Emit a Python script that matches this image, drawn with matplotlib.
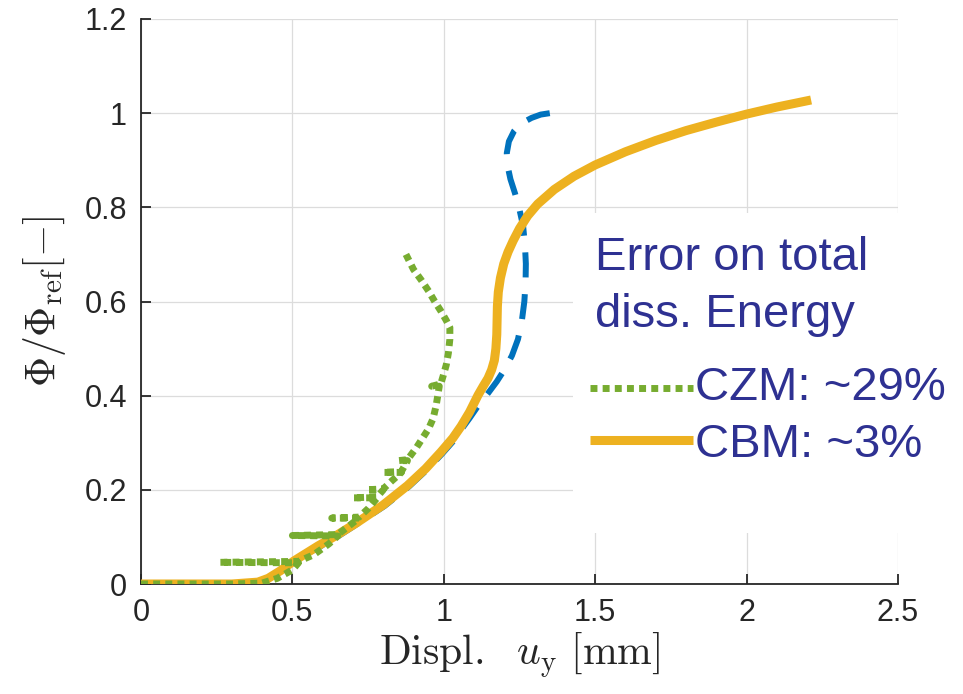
import matplotlib
matplotlib.use("Agg")
import matplotlib.pyplot as plt
from matplotlib.lines import Line2D
from matplotlib.patches import Rectangle

# reference curve (dashed blue, no legend entry)
ref_x = [0.0, 0.3, 0.386, 0.42, 0.46, 0.505, 0.545, 0.59, 0.655, 0.72, 0.805, 0.885, 0.945,
         0.995, 1.035, 1.06, 1.085, 1.115, 1.146, 1.175, 1.2, 1.225, 1.245, 1.258, 1.266, 1.27,
         1.271, 1.268, 1.262, 1.25, 1.235, 1.22, 1.21, 1.208, 1.215, 1.232, 1.255, 1.29, 1.32, 1.35]
ref_y = [0.0, 0.0, 0.004, 0.012, 0.027, 0.047, 0.063, 0.079, 0.103, 0.13, 0.166, 0.207, 0.243,
         0.277, 0.306, 0.33, 0.352, 0.38, 0.405, 0.43, 0.455, 0.485, 0.52, 0.56, 0.6, 0.64,
         0.68, 0.72, 0.76, 0.795, 0.83, 0.86, 0.89, 0.915, 0.94, 0.962, 0.978, 0.99, 0.997, 1.0]

# CBM
cbm_x = [0.0, 0.3, 0.386, 0.42, 0.46, 0.505, 0.545, 0.585, 0.65, 0.717, 0.8, 0.88, 0.94, 0.99,
         1.03, 1.057, 1.085, 1.113, 1.13, 1.146, 1.158, 1.167, 1.172, 1.175, 1.176, 1.177, 1.18,
         1.187, 1.198, 1.212, 1.229, 1.25, 1.277, 1.31, 1.365, 1.43, 1.5, 1.6, 1.7, 1.8, 1.9,
         2.0, 2.1, 2.213]
cbm_y = [0.0, 0.0, 0.004, 0.012, 0.028, 0.049, 0.065, 0.081, 0.105, 0.132, 0.168, 0.209, 0.245,
         0.28, 0.31, 0.335, 0.365, 0.401, 0.42, 0.437, 0.455, 0.475, 0.5, 0.53, 0.56, 0.59, 0.62,
         0.65, 0.68, 0.705, 0.729, 0.755, 0.782, 0.807, 0.838, 0.866, 0.89, 0.918, 0.942, 0.963,
         0.981, 0.998, 1.013, 1.028]

# CZM (with snap-back excursions)
czm_x = [0.0, 0.3, 0.4, 0.45, 0.5, 0.52, 0.26, 0.52, 0.57, 0.62, 0.65, 0.50, 0.65, 0.69, 0.72,
         0.63, 0.72, 0.75, 0.78, 0.70, 0.78, 0.80, 0.745, 0.80, 0.83, 0.86, 0.80, 0.86, 0.88,
         0.85, 0.88, 0.91, 0.93, 0.95, 0.965, 0.975, 0.985, 0.96, 0.99, 0.997, 1.008, 1.015,
         1.02, 1.02, 1.008, 0.99, 0.97, 0.95, 0.925, 0.9, 0.875]
czm_y = [0.0, 0.0, 0.002, 0.012, 0.03, 0.045, 0.046, 0.048, 0.062, 0.085, 0.102, 0.103, 0.105,
         0.125, 0.14, 0.14, 0.142, 0.16, 0.183, 0.183, 0.185, 0.2, 0.2, 0.202, 0.22, 0.237,
         0.237, 0.239, 0.262, 0.262, 0.264, 0.29, 0.31, 0.33, 0.352, 0.38, 0.42, 0.42, 0.425,
         0.44, 0.465, 0.49, 0.52, 0.545, 0.56, 0.58, 0.60, 0.622, 0.646, 0.668, 0.70]

x_ticks = [0, 0.5, 1, 1.5, 2, 2.5]
x_tick_labels = ["0", "0.5", "1", "1.5", "2", "2.5"]
y_ticks = [0, 0.2, 0.4, 0.6, 0.8, 1.0, 1.2]
y_tick_labels = ["0", "0.2", "0.4", "0.6", "0.8", "1", "1.2"]

legend_title = "Error on total\ndiss. Energy"
legend_labels = ["CZM: ~29%", "CBM: ~3%"]

BLUE = "#0072BD"
YELLOW = "#EDB120"
GREEN = "#77AC30"
TEXT_BLUE = "#2E3192"
DARK = "#262626"

plt.rcParams["mathtext.fontset"] = "cm"
plt.rcParams["font.family"] = ["Liberation Sans", "DejaVu Sans"]

W, H = 963, 694
fig = plt.figure(figsize=(W / 100, H / 100), dpi=100)
ax = fig.add_axes([141 / W, 1 - 584 / H, (898 - 141) / W, (584 - 19) / H])


def px(x, y):
    return x / W, 1 - y / H


ax.plot(ref_x, ref_y, color=BLUE, lw=4.3, dashes=(4.2, 2.8), solid_capstyle="butt", zorder=3)
ax.plot(cbm_x, cbm_y, color=YELLOW, lw=6.5, solid_capstyle="butt", zorder=4)
ax.plot(czm_x, czm_y, color=GREEN, lw=5, dashes=(1, 0.75), dash_capstyle="butt", zorder=5)

ax.set_xlim(0, 2.5)
ax.set_ylim(0, 1.2)
ax.set_xticks(x_ticks)
ax.set_xticklabels(x_tick_labels)
ax.set_yticks(y_ticks)
ax.set_yticklabels(y_tick_labels)
ax.grid(True, color="#dcdcdc", lw=0.9)
ax.set_axisbelow(True)
for side in ["top", "right"]:
    ax.spines[side].set_visible(False)
for side in ["left", "bottom"]:
    ax.spines[side].set_color(DARK)
    ax.spines[side].set_linewidth(1.3)
ax.tick_params(direction="in", length=7, width=1.3, colors=DARK, labelsize=22, pad=10)

ax.set_xlabel(r"$\mathrm{Displ.}\ \ u_{\mathrm{y}}\ [\mathrm{mm}]$", fontsize=30, color=DARK, labelpad=2)
ax.set_ylabel(r"$\Phi/\Phi_{\mathrm{ref}}[-]$", fontsize=30, color=DARK, labelpad=12)

# white legend area
x0, y0 = px(573, 533)
x1, y1 = px(W, 213)
fig.add_artist(Rectangle((x0, y0), x1 - x0, y1 - y0, transform=fig.transFigure,
                         facecolor="white", edgecolor="none", zorder=5))

title_lines = legend_title.split("\n")
for line, base in zip(title_lines, [270, 327]):
    fig.text(*px(595, base), line, fontsize=34, color=TEXT_BLUE, va="baseline", ha="left", zorder=6)

handle_styles = [dict(color=GREEN, lw=5, dashes=(1, 0.75), dash_capstyle="butt"),
                 dict(color=YELLOW, lw=6.5, solid_capstyle="butt")]
for label, style, ly, base in zip(legend_labels, handle_styles, [388, 440], [400, 457]):
    hx0, hy = px(590, ly)
    hx1, _ = px(693, ly)
    fig.add_artist(Line2D([hx0, hx1], [hy, hy], transform=fig.transFigure, zorder=6, **style))
    fig.text(*px(695, base), label, fontsize=34, color=TEXT_BLUE, va="baseline", ha="left", zorder=6)

fig.savefig("out.png", dpi=100)
